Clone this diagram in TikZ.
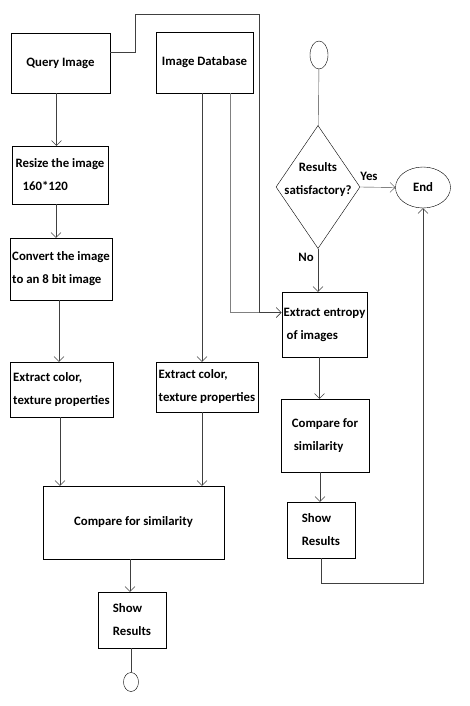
\documentclass[tikz,border=0pt]{standalone}
\usepackage{fontspec}
\setmainfont{Carlito}
\usetikzlibrary{shapes.geometric,arrows.meta}

\tikzset{
    box/.style={draw=black, thin, align=left, inner sep=2pt,
        font=\fontsize{12.8}{23}\selectfont\bfseries},
    oval/.style={draw=black, thin, ellipse, inner sep=0pt},
    lbl/.style={font=\fontsize{12.8}{14}\selectfont\bfseries, inner sep=1pt},
    line/.style={draw=black!75, thin},
    arr/.style={line, -{Straight Barb[length=5pt,width=10pt]}}
}

\begin{document}
\begin{tikzpicture}[x=1pt, y=-1pt]
    \useasboundingbox (0,0) rectangle (470,706);

    % Left branch: query image
    \node[box, minimum width=99pt, minimum height=60pt, align=center] (query) at (60.5,63) {Query Image};
    \node[box, minimum width=96pt, minimum height=58pt] (resize) at (60,175) {Resize the image\\\hspace{7pt}160*120};
    \node[box, minimum width=98pt, minimum height=62pt] (convert) at (61,269) {Convert the image\\to an 8 bit image};
    \node[box, minimum width=103pt, minimum height=55pt] (extractq) at (61.5,389.5) {Extract color,\\texture properties};

    % Middle branch: database
    \node[box, minimum width=97pt, minimum height=61pt, align=center] (db) at (204.5,62.5) {Image Database};
    \node[box, minimum width=102pt, minimum height=50pt] (extractdb) at (207,387) {Extract color,\\texture properties};

    % Common comparison
    \node[box, minimum width=181pt, minimum height=73pt, align=center] (compare) at (133.5,522.5) {Compare for similarity};
    \node[box, minimum width=68pt, minimum height=56pt] (show) at (132,620) {Show\\Results};
    \node[oval, minimum width=15pt, minimum height=19pt] (stop) at (131,682) {};

    % Right branch: entropy loop
    \node[oval, minimum width=18pt, minimum height=28pt] (start) at (319,55) {};
    \node[draw=black, thin, diamond, minimum width=84pt, minimum height=123pt, inner sep=0pt] (decide) at (318,187) {};
    \node[lbl, align=center, font=\fontsize{12.8}{23}\selectfont\bfseries] (decidetext) at (318,180) {Results\\satisfactory?};
    \node[oval, minimum width=55pt, minimum height=41pt, font=\fontsize{12.8}{14}\selectfont\bfseries] (finish) at (423,187.5) {End};
    \node[box, minimum width=85pt, minimum height=65pt] (entropy) at (324.5,324.5) {Extract entropy\\\hspace{3pt}of images};
    \node[box, minimum width=88pt, minimum height=73pt] (compareent) at (325,435.5) {Compare for\\\hspace{2pt}similarity};
    \node[box, minimum width=68pt, minimum height=56pt] (showent) at (321,530) {Show\\Results};

    % Helper points
    \coordinate (entryin) at ([yshift=12pt]entropy.west);
    \coordinate (toprun) at (259,14);

    % Left chain
    \draw[arr] ([xshift=-4pt]query.south) -- ([xshift=-4pt]query.south |- resize.north);
    \draw[arr] ([xshift=-4pt]resize.south) -- ([xshift=-4pt]resize.south |- convert.north);
    \draw[arr] ([xshift=-2pt]convert.south) -- ([xshift=-2pt]convert.south |- extractq.north);
    \draw[arr] ([xshift=-1.5pt]extractq.south) -- ([xshift=-1.5pt]extractq.south |- compare.north);

    % Database chain
    \draw[arr] ([xshift=-2.5pt]db.south) -- ([xshift=-2.5pt]db.south |- extractdb.north);
    \draw[arr] ([xshift=-5pt]extractdb.south) -- ([xshift=-5pt]extractdb.south |- compare.north);
    \draw[arr, draw=black!50] ([xshift=25.5pt]db.south) |- (entryin);

    % Query feeds the entropy step
    \draw[arr] ([yshift=11pt]query.east) -| (135,14) -- (toprun) |- (entryin);

    % Comparison to results
    \draw[arr] ([xshift=-3.5pt]compare.south) -- ([xshift=-3.5pt]compare.south |- show.north);
    \draw[line] ([xshift=-1pt]show.south) -- (stop);

    % Entropy loop
    \draw[line] (start) -- (decide);
    \draw[arr] (decide.east) -- node[lbl, above=5pt, pos=0.25] {Yes} (finish.west);
    \draw[arr] (decide.south) -- node[lbl, left=3pt, pos=0.2] {No} (decide.south |- entropy.north);
    \draw[arr] ([xshift=-5pt]entropy.south) -- ([xshift=-5pt]entropy.south |- compareent.north);
    \draw[arr] ([xshift=-5pt]compareent.south) -- ([xshift=-5pt]compareent.south |- showent.north);
    \draw[arr] (showent.south) -- ++(0,25) -| (finish.south);
\end{tikzpicture}
\end{document}
